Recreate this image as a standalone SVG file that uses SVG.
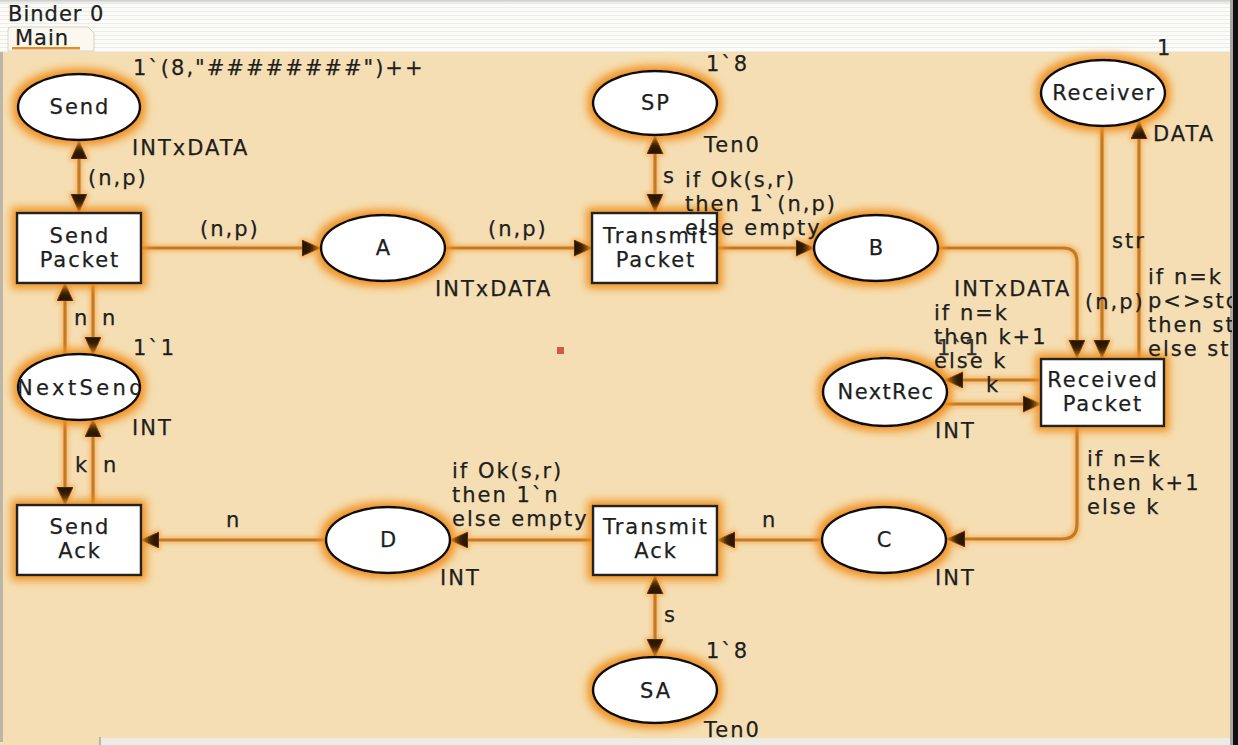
<svg xmlns="http://www.w3.org/2000/svg" width="1238" height="745" viewBox="0 0 1238 745">
<style>
.t{font-family:"DejaVu Sans","Liberation Sans",sans-serif;font-size:21px;letter-spacing:2px;fill:#1E1E1E;stroke:#1E1E1E;stroke-width:0.25}
.c{text-anchor:middle}
.arc{fill:none;stroke:#C47A22;stroke-width:3.2}
.pl{fill:#fff;stroke:#111;stroke-width:2.5}
.tr{fill:#fff;stroke:#222;stroke-width:2.5}
</style>
<defs>
<pattern id="stripes" width="8" height="4" patternUnits="userSpaceOnUse">
<rect width="8" height="4" fill="#FBFBF8"/>
<rect y="3" width="8" height="1" fill="#ECECE8"/>
</pattern>
<linearGradient id="topg" x1="0" y1="0" x2="0" y2="1">
<stop offset="0" stop-color="#C8C8C8"/>
<stop offset="1" stop-color="#FBFBF8" stop-opacity="0"/>
</linearGradient>
<filter id="glow" x="-30%" y="-40%" width="160%" height="180%">
<feMorphology in="SourceAlpha" operator="dilate" radius="4" result="d"/>
<feGaussianBlur in="d" stdDeviation="4" result="b"/>
<feFlood flood-color="#F0901E" flood-opacity="1"/>
<feComposite in2="b" operator="in" result="g"/>
<feMerge><feMergeNode in="g"/><feMergeNode in="SourceGraphic"/></feMerge>
</filter>
<filter id="aglow" x="-10%" y="-10%" width="120%" height="120%">
<feMorphology in="SourceAlpha" operator="dilate" radius="1.5" result="d"/>
<feGaussianBlur in="d" stdDeviation="2" result="b"/>
<feFlood flood-color="#F4A850" flood-opacity="0.7"/>
<feComposite in2="b" operator="in" result="g"/>
<feMerge><feMergeNode in="g"/><feMergeNode in="SourceGraphic"/></feMerge>
</filter>
<marker id="ah" markerUnits="userSpaceOnUse" markerWidth="19" markerHeight="17" refX="18" refY="8" orient="auto-start-reverse" viewBox="0 0 19 17">
<path d="M0,0 L18,8 L0,16 z" fill="#2A1804" stroke="#6B3E0C" stroke-width="1"/>
</marker>
<clipPath id="nsclip"><ellipse cx="79" cy="387" rx="60" ry="32"/></clipPath>
<clipPath id="rclip"><rect x="0" y="0" width="1232" height="745"/></clipPath>
</defs>

<!-- background -->
<rect x="0" y="0" width="1238" height="745" fill="#F5DEB3"/>
<rect x="0" y="0" width="1238" height="52" fill="url(#stripes)"/>
<rect x="0" y="0" width="1238" height="6" fill="url(#topg)"/>
<path d="M8,51 V30 Q8,27 11,27 H88 L94,33 V51 Z" fill="#FBF8F0" stroke="#D8D2C4" stroke-width="1"/>
<rect x="12" y="47" width="68" height="2.5" fill="#F08A1C"/>
<text class="t" x="8" y="21" style="letter-spacing:1px">Binder 0</text>
<text class="t" x="15" y="45" style="letter-spacing:1px">Main</text>
<rect x="0" y="52" width="3" height="690" fill="#BDB6A8"/>
<rect x="1230" y="0" width="3" height="745" fill="#A8A8A0"/>
<rect x="1233" y="0" width="5" height="745" fill="#111"/>
<rect x="100" y="738" width="1130" height="7" fill="#ECECE4"/>
<rect x="99" y="737" width="2" height="8" fill="#B8B8B0"/>
<rect x="557" y="347" width="7" height="7" fill="#D05A44"/>

<!-- connectors -->
<g id="connectors" filter="url(#aglow)">
<path class="arc" d="M79,141 V212" marker-start="url(#ah)" marker-end="url(#ah)"/>
<path class="arc" d="M141,248 H320" marker-end="url(#ah)"/>
<path class="arc" d="M445,248 H592" marker-end="url(#ah)"/>
<path class="arc" d="M655,136 V212" marker-start="url(#ah)" marker-end="url(#ah)"/>
<path class="arc" d="M717,248 H814" marker-end="url(#ah)"/>
<path class="arc" d="M938,248 H1063 Q1077,248 1077,262 V358" marker-end="url(#ah)"/>
<path class="arc" d="M1102,126 V358" marker-end="url(#ah)"/>
<path class="arc" d="M1139,358 V121" marker-end="url(#ah)"/>
<path class="arc" d="M1041,380 H945" marker-end="url(#ah)"/>
<path class="arc" d="M944,404 H1041" marker-end="url(#ah)"/>
<path class="arc" d="M1077,426 V524 Q1077,539 1062,539 H947" marker-end="url(#ah)"/>
<path class="arc" d="M822,540 H717" marker-end="url(#ah)"/>
<path class="arc" d="M593,540 H450" marker-end="url(#ah)"/>
<path class="arc" d="M326,540 H141" marker-end="url(#ah)"/>
<path class="arc" d="M655,576 V657" marker-start="url(#ah)" marker-end="url(#ah)"/>
<path class="arc" d="M65,355 V283" marker-end="url(#ah)"/>
<path class="arc" d="M93,283 V355" marker-end="url(#ah)"/>
<path class="arc" d="M65,419 V505" marker-end="url(#ah)"/>
<path class="arc" d="M93,505 V419" marker-end="url(#ah)"/>
</g>

<!-- places -->
<g id="Send"><ellipse class="pl" filter="url(#glow)" cx="79" cy="107" rx="61" ry="33"/><text class="t c" x="80" y="114">Send</text></g>
<g id="SP"><ellipse class="pl" filter="url(#glow)" cx="655" cy="103" rx="62" ry="32"/><text class="t c" x="656" y="110">SP</text></g>
<g id="Receiver"><ellipse class="pl" filter="url(#glow)" cx="1103" cy="93" rx="62" ry="33"/><text class="t c" x="1104" y="100" style="letter-spacing:1.6px">Receiver</text></g>
<g id="A"><ellipse class="pl" filter="url(#glow)" cx="383" cy="248" rx="62" ry="33"/><text class="t c" x="384" y="255">A</text></g>
<g id="B"><ellipse class="pl" filter="url(#glow)" cx="876" cy="248" rx="62" ry="33"/><text class="t c" x="877" y="255">B</text></g>
<g id="NextSend"><ellipse class="pl" filter="url(#glow)" cx="79" cy="387" rx="61" ry="33"/><text class="t" x="17" y="395" clip-path="url(#nsclip)" style="letter-spacing:3.4px">NextSend</text></g>
<g id="NextRec"><ellipse class="pl" filter="url(#glow)" cx="885" cy="392" rx="62" ry="34"/><text class="t c" x="886" y="399" style="letter-spacing:1.4px">NextRec</text></g>
<g id="D"><ellipse class="pl" filter="url(#glow)" cx="388" cy="540" rx="62" ry="33"/><text class="t c" x="389" y="547">D</text></g>
<g id="C"><ellipse class="pl" filter="url(#glow)" cx="884" cy="540" rx="62" ry="33"/><text class="t c" x="885" y="547">C</text></g>
<g id="SA"><ellipse class="pl" filter="url(#glow)" cx="655" cy="690" rx="62" ry="33"/><text class="t c" x="656" y="698">SA</text></g>

<!-- transitions -->
<g id="SendPacket"><rect class="tr" filter="url(#glow)" x="17" y="213" width="124" height="70"/><text class="t c" x="80" y="243">Send</text><text class="t c" x="80" y="267">Packet</text></g>
<g id="TransmitPacket"><rect class="tr" filter="url(#glow)" x="592" y="213" width="125" height="70"/><text class="t c" x="656" y="243">Transmit</text><text class="t c" x="656" y="267">Packet</text></g>
<g id="ReceivedPacket"><rect class="tr" filter="url(#glow)" x="1041" y="359" width="123" height="67"/><text class="t c" x="1103" y="387">Received</text><text class="t c" x="1103" y="411">Packet</text></g>
<g id="SendAck"><rect class="tr" filter="url(#glow)" x="17" y="505" width="124" height="70"/><text class="t c" x="80" y="534">Send</text><text class="t c" x="80" y="558">Ack</text></g>
<g id="TransmitAck"><rect class="tr" filter="url(#glow)" x="593" y="506" width="124" height="69"/><text class="t c" x="656" y="534">Transmit</text><text class="t c" x="656" y="558">Ack</text></g>

<!-- labels -->
<g id="labels">
<text class="t" x="133" y="75">1`(8,"########")++</text>
<text class="t" x="132" y="155">INTxDATA</text>
<text class="t" x="88" y="185">(n,p)</text>
<text class="t" x="200" y="236">(n,p)</text>
<text class="t" x="488" y="236">(n,p)</text>
<text class="t" x="435" y="296">INTxDATA</text>
<text class="t" x="706" y="71">1`8</text>
<text class="t" x="704" y="152">Ten0</text>
<text class="t" x="663" y="183">s</text>
<text class="t" x="685" y="187">if Ok(s,r)</text>
<text class="t" x="685" y="211">then 1`(n,p)</text>
<text class="t" x="685" y="235">else empty</text>
<text class="t" x="954" y="296">INTxDATA</text>
<text class="t" x="1157" y="55">1</text>
<text class="t" x="1153" y="141">DATA</text>
<text class="t" x="1112" y="248">str</text>
<text class="t" x="1085" y="309">(n,p)</text>
<g clip-path="url(#rclip)">
<text class="t" x="1148" y="284">if n=k a</text>
<text class="t" x="1148" y="308">p&lt;&gt;sto</text>
<text class="t" x="1148" y="332">then st</text>
<text class="t" x="1148" y="356">else st</text>
</g>
<text class="t" x="934" y="320">if n=k</text>
<text class="t" x="934" y="344">then k+1</text>
<text class="t" x="937" y="355" style="fill:#333">1`1</text>
<text class="t" x="934" y="368">else k</text>
<text class="t" x="986" y="392">k</text>
<text class="t" x="935" y="438">INT</text>
<text class="t" x="1087" y="466">if n=k</text>
<text class="t" x="1087" y="490">then k+1</text>
<text class="t" x="1087" y="514">else k</text>
<text class="t" x="935" y="585">INT</text>
<text class="t" x="762" y="527">n</text>
<text class="t" x="452" y="478">if Ok(s,r)</text>
<text class="t" x="452" y="502">then 1`n</text>
<text class="t" x="452" y="526">else empty</text>
<text class="t" x="440" y="585">INT</text>
<text class="t" x="226" y="527">n</text>
<text class="t" x="664" y="622">s</text>
<text class="t" x="706" y="658">1`8</text>
<text class="t" x="704" y="737">Ten0</text>
<text class="t" x="133" y="355">1`1</text>
<text class="t" x="132" y="435">INT</text>
<text class="t" x="74" y="325">n</text>
<text class="t" x="102" y="325">n</text>
<text class="t" x="75" y="472">k</text>
<text class="t" x="103" y="472">n</text>
</g>
</svg>
